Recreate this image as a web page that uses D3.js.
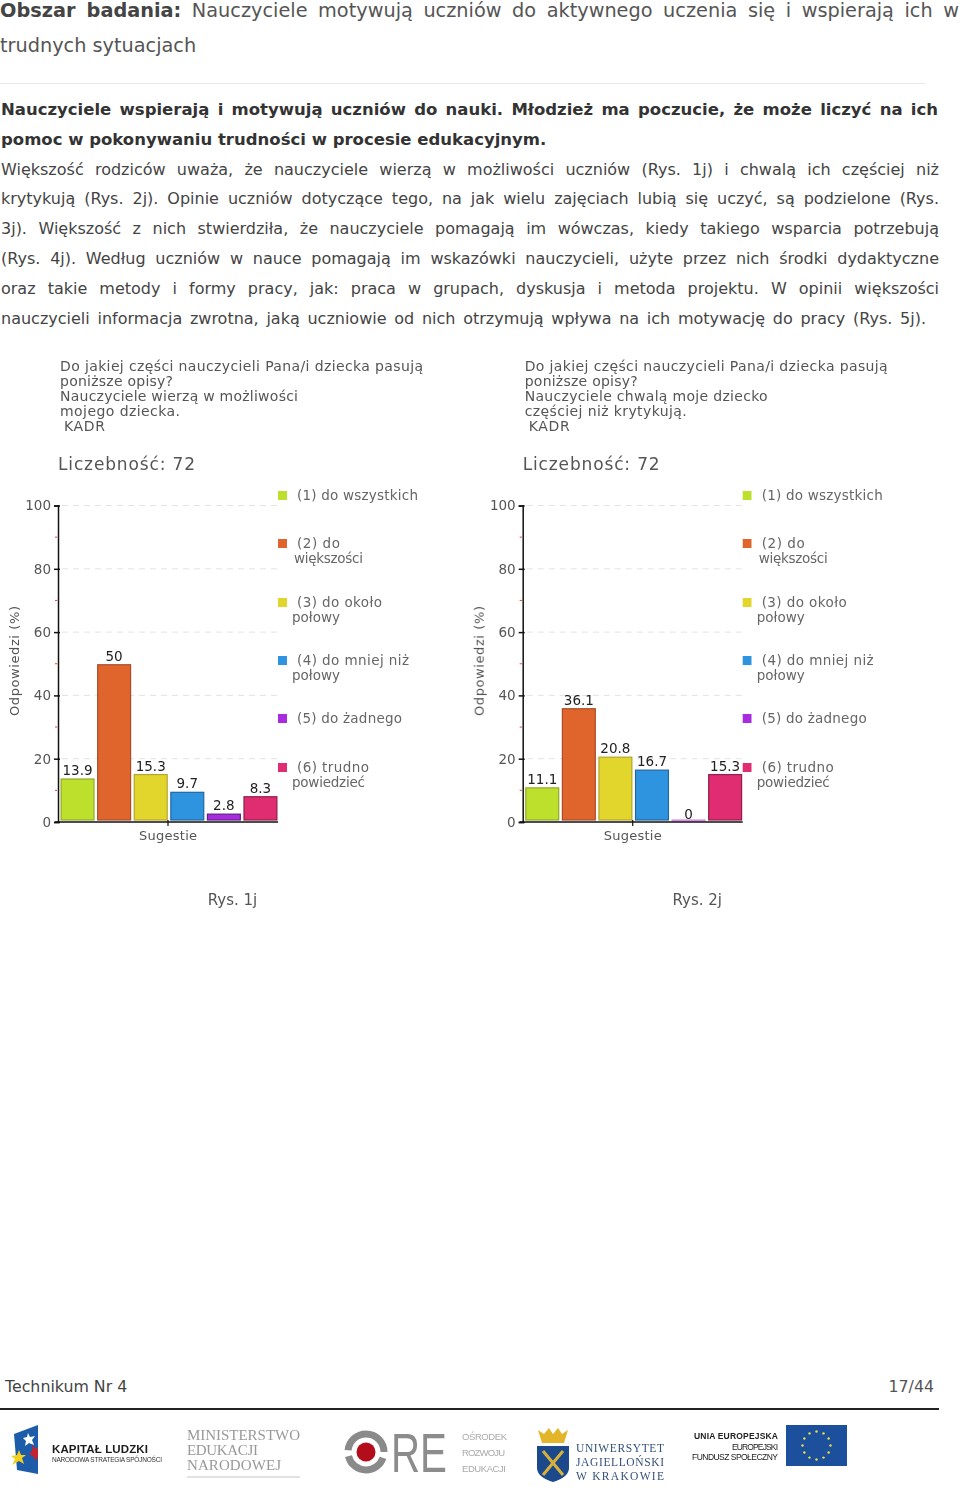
<!DOCTYPE html>
<html><head><meta charset="utf-8">
<script src="https://cdn.jsdelivr.net/npm/d3@7"></script>
<style>html,body{margin:0;padding:0;background:#fff}svg{display:block}text{font-family:"DejaVu Sans",sans-serif}</style>
</head><body><div id="c"></div>
<script>
const categories = ["(1)","(2)","(3)","(4)","(5)","(6)"];
const valuesChart1 = [13.9,50,15.3,9.7,2.8,8.3];
const valuesChart2 = [11.1,36.1,20.8,16.7,0,15.3];
const barColors = ["#bde02c","#e0652c","#e2d52b","#2f94e0","#a82be0","#e02c70"];
const barStrokes = ["#93a92f","#a84d28","#b3a62e","#22679f","#5f2085","#8f1f4c"];
const yMajor = [0,20,40,60,80,100];
const yMinor = [10,30,50,70,90];
const titleChart1 = ["Do jakiej części nauczycieli Pana/i dziecka pasują","poniższe opisy?","Nauczyciele wierzą w możliwości","mojego dziecka.","KADR"];
const titleChart2 = ["Do jakiej części nauczycieli Pana/i dziecka pasują","poniższe opisy?","Nauczyciele chwalą moje dziecko","częściej niż krytykują.","KADR"];
const legendLabels = [["(1) do wszystkich"],["(2) do","większości"],["(3) do około","połowy"],["(4) do mniej niż","połowy"],["(5) do żadnego"],["(6) trudno","powiedzieć"]];
const bodyBold = ["Nauczyciele wspierają i motywują uczniów do nauki. Młodzież ma poczucie, że może liczyć na ich","pomoc w pokonywaniu trudności w procesie edukacyjnym."];
const bodyLines = ["Większość rodziców uważa, że nauczyciele wierzą w możliwości uczniów (Rys. 1j) i chwalą ich częściej niż",
"krytykują (Rys. 2j). Opinie uczniów dotyczące tego, na jak wielu zajęciach lubią się uczyć, są podzielone (Rys.",
"3j). Większość z nich stwierdziła, że nauczyciele pomagają im wówczas, kiedy takiego wsparcia potrzebują",
"(Rys. 4j). Według uczniów w nauce pomagają im wskazówki nauczycieli, użyte przez nich środki dydaktyczne",
"oraz takie metody i formy pracy, jak: praca w grupach, dyskusja i metoda projektu. W opinii większości",
"nauczycieli informacja zwrotna, jaką uczniowie od nich otrzymują wpływa na ich motywację do pracy (Rys. 5j)."];

const svg = d3.select("#c").append("svg").attr("width",960).attr("height",1495);
svg.append("defs").append("filter").attr("id","soft").append("feGaussianBlur").attr("stdDeviation",0.35);

function txt(g,s,x,y,size,fill,opts={}){
  const t=g.append("text").attr("x",x).attr("y",y).attr("font-size",size).attr("fill",fill).style("white-space","pre").text(s);
  if(opts.bold)t.attr("font-weight","bold");
  if(opts.anchor)t.attr("text-anchor",opts.anchor);
  if(opts.family)t.style("font-family",opts.family);
  if(opts.width){t.attr("textLength",opts.width).attr("lengthAdjust","spacing");}
  if(opts.just){const n=s.split(" ").length-1;const w=t.node().getComputedTextLength();t.style("word-spacing",((opts.just-w)/n)+"px");}
  return t;
}

// header
const head=svg.append("g");
const h1=txt(head,"",0,17,19.3,"#555");
h1.append("tspan").attr("font-weight","bold").attr("fill","#444").text("Obszar badania:");
h1.append("tspan").text(" Nauczyciele motywują uczniów do aktywnego uczenia się i wspierają ich w");
{const n=h1.text().split(" ").length-1,w=h1.node().getComputedTextLength();h1.style("word-spacing",((959-w)/n)+"px");}
txt(head,"trudnych sytuacjach",0,52,19.3,"#555");
head.append("line").attr("x1",0).attr("x2",925).attr("y1",83.5).attr("y2",83.5).attr("stroke","#e9e9e9");

const body=svg.append("g");
txt(body,bodyBold[0],1,115,16.5,"#333",{bold:true,just:937});
txt(body,bodyBold[1],1,145,16.5,"#333",{bold:true});
const by=[175,204,234,264,294,324];
bodyLines.forEach((l,i)=>txt(body,l,1,by[i],16,"#444",i<5?{just:938}:{just:925}));

// charts
function chart(dx,title,titleWidths,values,caption){
  const g=svg.append("g").attr("transform",`translate(${dx},0)`);
  const soft=g.append("g").attr("filter","url(#soft)");
  const ty=[371,386,401,416,431];
  title.forEach((l,i)=>txt(soft,l,i==4?64:60,ty[i],14,"#555",{width:titleWidths[i]}));
  txt(soft,"Liczebność: 72",58,470,17,"#555",{width:137});
  const y=d3.scaleLinear().domain([0,100]).range([822,505.5]);
  const x=d3.scaleBand().domain(categories).range([60,278]).paddingInner(0.1).paddingOuter(0.03);
  g.selectAll(".grid").data(yMajor.slice(1)).join("line").attr("x1",62).attr("x2",278)
    .attr("y1",d=>y(d)).attr("y2",d=>y(d)).attr("stroke","#e3e3e3").attr("stroke-dasharray","6 5");
  const ax=g.append("g").attr("transform","translate(58,0)").call(d3.axisLeft(y).tickValues(yMajor).tickSize(4).tickPadding(3).tickFormat(d3.format("d")));
  ax.selectAll(".domain").attr("stroke","#111").attr("stroke-width",1.5);
  ax.selectAll(".tick line").attr("stroke","#111").attr("stroke-width",1.5).attr("x2",2).attr("x1",-4);
  ax.selectAll("text").attr("font-size",13.5).attr("fill","#555").style("font-family",'"DejaVu Sans",sans-serif');
  g.selectAll(".minor").data(yMinor).join("line").attr("x1",55).attr("x2",57.2).attr("y1",d=>y(d)).attr("y2",d=>y(d)).attr("stroke","#d44");
  const barBottom=y(0)-2;
  g.selectAll(".bar").data(values).join("rect")
    .attr("x",(d,i)=>x(categories[i])).attr("width",x.bandwidth())
    .attr("y",d=>d===0?barBottom:y(d)+1).attr("height",d=>d===0?0.8:barBottom-y(d)-1)
    .attr("fill",(d,i)=>barColors[i]).attr("stroke",(d,i)=>d===0?"#d78be9":barStrokes[i]).attr("stroke-width",1.2);
  g.selectAll(".val").data(values).join("text").attr("x",(d,i)=>x(categories[i])+x.bandwidth()/2)
    .attr("y",d=>d===0?y(d)-3.5:y(d)-3).attr("text-anchor","middle").attr("font-size",13.5).attr("fill","#222").text(d=>d);
  g.append("line").attr("x1",55).attr("x2",278).attr("y1",822).attr("y2",822).attr("stroke","#111").attr("stroke-width",1.5);
  g.append("line").attr("x1",168).attr("x2",168).attr("y1",820).attr("y2",826).attr("stroke","#111").attr("stroke-width",1.2);
  txt(soft,"Sugestie",168,840,13,"#555",{anchor:"middle",width:58});
  txt(soft,"Odpowiedzi (%)",0,0,13,"#555",{anchor:"middle",width:110}).attr("transform","translate(19,661) rotate(-90)");
  const ly=[495,543,602,660,718,767];
  const lx2=[0,294,292,292,0,292];
  const lw=[[121],[43,69],[85,48],[112,48],[105],[72,73]];
  legendLabels.forEach((lines,i)=>{
    g.append("rect").attr("x",278).attr("y",ly[i]-4).attr("width",9).attr("height",9).attr("fill",barColors[i]);
    lines.forEach((l,j)=>txt(soft,l,j?lx2[i]:297,ly[i]+5+j*(i==1?15:14.5),13.5,"#666",{width:lw[i][j]}));
  });
  txt(g,caption,232.5,905,15,"#555",{anchor:"middle"});
}
chart(0,titleChart1,[363,113,238,120,41],valuesChart1,"Rys. 1j");
chart(464.7,titleChart2,[363,113,243,162,41],valuesChart2,"Rys. 2j");

// footer
const foot=svg.append("g");
txt(foot,"Technikum Nr 4",5,1392,15.8,"#444");
txt(foot,"17/44",934,1392,15.8,"#555",{anchor:"end"});
foot.append("line").attr("x1",0).attr("x2",939).attr("y1",1409).attr("y2",1409).attr("stroke","#222").attr("stroke-width",2);

// logos
const L=svg.append("g").attr("filter","url(#soft)");
L.append("path").attr("d","M38,1425 L38,1474 L17,1470 L14,1434 Z").attr("fill","#1b5ba8");
L.append("path").attr("d","M28,1433 l2,4 5,-1 -3,4 2,5 -5,-2 -4,3 1,-5 -3,-3 4,-1z").attr("fill","#fff");
L.append("path").attr("d","M19,1450 l2,5 5,0 -4,3 2,6 -5,-3 -7,4 3,-6 -4,-3 6,-1z").attr("fill","#f4d21f");
L.append("path").attr("d","M33,1445 l2,3 3,1 0,7 -2,5 -3,-5 -4,-2 3,-3z").attr("fill","#c8202f");
txt(L,"KAPITAŁ LUDZKI",52,1452.5,11.5,"#1b1b1b",{bold:true,width:96,family:'"Liberation Sans",sans-serif'});
txt(L,"NARODOWA STRATEGIA SPÓJNOŚCI",52,1462,6.5,"#333",{width:110,family:'"Liberation Sans",sans-serif'});
["MINISTERSTWO","EDUKACJI","NARODOWEJ"].forEach((s,i)=>txt(L,s,187,1440+i*15,15,"#999",{width:[113,71,94][i],family:'"Liberation Serif",serif'}));
L.append("line").attr("x1",187).attr("x2",300).attr("y1",1477).attr("y2",1477).attr("stroke","#c9c5bd").attr("stroke-width",1);
L.append("circle").attr("cx",366).attr("cy",1452).attr("r",18).attr("fill","none").attr("stroke","#8a8a8a").attr("stroke-width",7).attr("stroke-dasharray","46 6 55 6").attr("stroke-dashoffset",-6);
L.append("circle").attr("cx",366).attr("cy",1452).attr("r",9.5).attr("fill","#b3101f");
txt(L,"RE",0,0,56,"#8c8c8c",{family:'"Liberation Sans",sans-serif'}).attr("transform","translate(391,1472) scale(0.72,1)");
["OŚRODEK","ROZWOJU","EDUKACJI"].forEach((s,i)=>txt(L,s,462,1440+i*16,9.5,"#aaa",{width:[45,43,44][i],family:'"Liberation Sans",sans-serif'}));
L.append("path").attr("d","M538,1430 l6,4 5,-6 4,6 5,-6 4,6 6,-4 -4,13 h-22z").attr("fill","#e2b52a");
L.append("path").attr("d","M537,1446 h32 v22 q0,9 -16,14 q-16,-5 -16,-14z").attr("fill","#1a4a8c");
L.append("path").attr("d","M543,1451 L563,1475 M563,1451 L543,1475").attr("stroke","#d8b13a").attr("stroke-width",3);
["UNIWERSYTET","JAGIELLOŃSKI","W KRAKOWIE"].forEach((s,i)=>txt(L,s,576,1452+i*14,11.5,"#33507a",{width:88,family:'"Liberation Serif",serif'}));
[["UNIA EUROPEJSKA",1439,true,84],["EUROPEJSKI",1449.5,false,46],["FUNDUSZ SPOŁECZNY",1460,false,86]].forEach(d=>{
  txt(L,d[0],778-d[3],d[1],8.5,"#222",{bold:d[2],width:d[3],family:'"Liberation Sans",sans-serif'});
});
L.append("rect").attr("x",786).attr("y",1425).attr("width",61).attr("height",41).attr("fill","#1d4f9c");
d3.range(12).forEach(i=>{const a=i/12*2*Math.PI;L.append("circle").attr("cx",816.5+14*Math.cos(a)).attr("cy",1445.5+14*Math.sin(a)).attr("r",1.2).attr("fill","#e8e04a");});
</script></body></html>
